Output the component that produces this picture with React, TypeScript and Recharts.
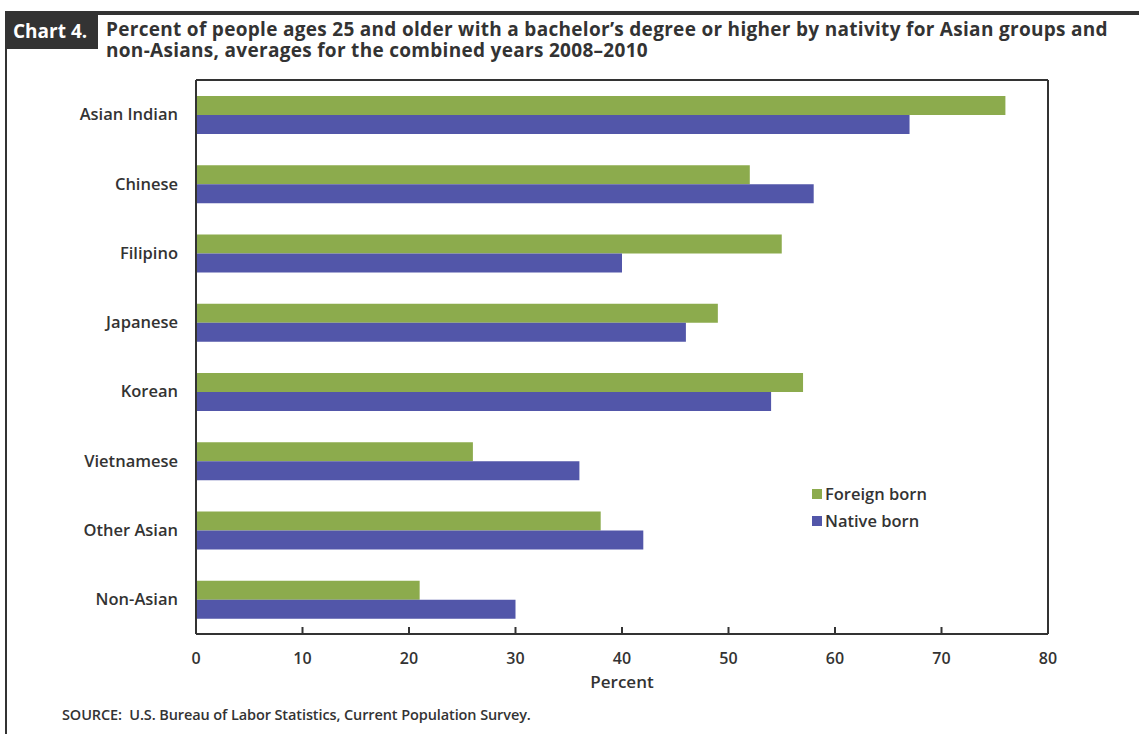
import React from "react";
import {
  BarChart,
  Bar,
  XAxis,
  YAxis,
  CartesianGrid,
} from "recharts";

const groups = [
  "Asian Indian",
  "Chinese",
  "Filipino",
  "Japanese",
  "Korean",
  "Vietnamese",
  "Other Asian",
  "Non-Asian",
];

const foreignBorn = [76, 52, 55, 49, 57, 26, 38, 21];
const nativeBorn = [67, 58, 40, 46, 54, 36, 42, 30];

const percentTicks = [0, 10, 20, 30, 40, 50, 60, 70, 80];

const data = groups.map((name, i) => ({
  name,
  foreign: foreignBorn[i],
  native: nativeBorn[i],
}));

const FONT = "'Open Sans', Lato, sans-serif";
const INK = "#333333";
const GREEN = "#8cab4d";
const BLUE = "#5256a9";

const XTick = (props: any) => {
  const { x, y, payload } = props;
  return (
    <g>
      <line x1={x} x2={x} y1={y} y2={y - 7} stroke={INK} strokeWidth={2} />
      <text
        x={x}
        y={y + 30}
        textAnchor="middle"
        fontFamily={FONT}
        fontWeight={600}
        fontSize={16}
        fill={INK}
      >
        {payload.value}
      </text>
    </g>
  );
};

// plot frame drawn on the plot edges
const edgesY = ({ offset }: any) => [offset.top, offset.top + offset.height];
const edgesX = ({ offset }: any) => [offset.left, offset.left + offset.width];

const titleLine: React.CSSProperties = {
  position: "absolute",
  left: 106,
  fontFamily: FONT,
  fontWeight: 700,
  fontSize: 19,
  lineHeight: "20px",
  color: INK,
  letterSpacing: 0.3,
  whiteSpace: "nowrap",
};

export default function App() {
  return (
    <div
      style={{
        position: "absolute",
        left: 0,
        top: 0,
        width: 1139,
        height: 734,
        background: "#fff",
        overflow: "hidden",
      }}
    >
      {/* frame */}
      <div
        style={{
          position: "absolute",
          left: 5,
          top: 11,
          width: 1134,
          height: 4,
          background: INK,
        }}
      />
      <div
        style={{
          position: "absolute",
          left: 5,
          top: 11,
          width: 2,
          height: 723,
          background: INK,
        }}
      />
      <div
        style={{
          position: "absolute",
          left: 7,
          top: 11,
          width: 91,
          height: 38,
          background: INK,
          color: "#fff",
          fontFamily: FONT,
          fontWeight: 700,
          fontSize: 19,
          lineHeight: "40px",
          paddingLeft: 6,
          boxSizing: "border-box",
          whiteSpace: "nowrap",
        }}
      >
        Chart 4.
      </div>
      <div style={{ ...titleLine, top: 19 }}>
        Percent of people ages 25 and older with a bachelor’s degree or higher
        by nativity for Asian groups and
      </div>
      <div style={{ ...titleLine, top: 40 }}>
        non-Asians, averages for the combined years 2008–2010
      </div>

      <div style={{ position: "absolute", left: 0, top: 0 }}>
        <BarChart
          width={1139}
          height={734}
          data={data}
          layout="vertical"
          barSize={19}
          barGap={0}
          margin={{ top: 80, right: 91, left: 16, bottom: 40 }}
        >
          <CartesianGrid
            stroke={INK}
            strokeWidth={2}
            horizontalCoordinatesGenerator={edgesY}
            verticalCoordinatesGenerator={edgesX}
          />
          <XAxis
            type="number"
            domain={[0, 80]}
            ticks={percentTicks}
            tickLine={false}
            tickSize={0}
            tickMargin={0}
            height={60}
            tick={<XTick />}
            axisLine={{ stroke: INK, strokeWidth: 2 }}
            label={{
              value: "Percent",
              position: "bottom",
              offset: -18,
              fill: INK,
              fontFamily: FONT,
              fontWeight: 600,
              fontSize: 17,
            }}
          />
          <YAxis
            type="category"
            dataKey="name"
            width={180}
            tickLine={false}
            tickMargin={12}
            axisLine={{ stroke: INK, strokeWidth: 2 }}
            tick={{
              fill: INK,
              fontFamily: FONT,
              fontWeight: 600,
              fontSize: 16.5,
            }}
          />
          <Bar
            dataKey="foreign"
            name="Foreign born"
            fill={GREEN}
            isAnimationActive={false}
          />
          <Bar
            dataKey="native"
            name="Native born"
            fill={BLUE}
            isAnimationActive={false}
          />
        </BarChart>
      </div>

      {/* legend */}
      <div
        style={{
          position: "absolute",
          left: 812,
          top: 480,
          fontFamily: FONT,
          fontWeight: 600,
          fontSize: 16.5,
          color: INK,
        }}
      >
        {[
          { label: "Foreign born", color: GREEN },
          { label: "Native born", color: BLUE },
        ].map((item) => (
          <div
            key={item.label}
            style={{ display: "flex", alignItems: "center", height: 27 }}
          >
            <span
              style={{
                width: 10,
                height: 10,
                background: item.color,
                marginRight: 3,
              }}
            />
            {item.label}
          </div>
        ))}
      </div>

      <div
        style={{
          position: "absolute",
          left: 62,
          top: 705,
          fontFamily: FONT,
          fontWeight: 600,
          fontSize: 14.5,
          color: INK,
          letterSpacing: -0.1,
        }}
      >
        SOURCE:&nbsp; U.S. Bureau of Labor Statistics, Current Population Survey.
      </div>
    </div>
  );
}
